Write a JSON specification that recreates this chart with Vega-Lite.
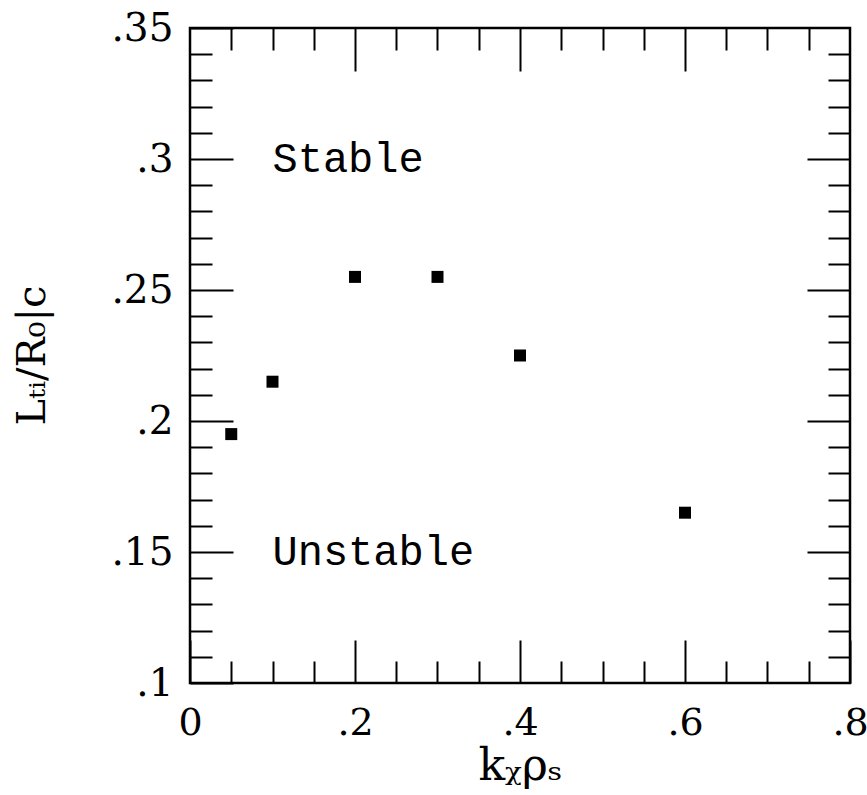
{
  "$schema": "https://vega.github.io/schema/vega-lite/v6.json",
  "width": 660,
  "height": 655,
  "autosize": {"type": "none"},
  "padding": {"left": 190, "top": 28, "right": 17, "bottom": 112},
  "background": "white",
  "config": {
    "view": {"stroke": "black", "strokeWidth": 2.5},
    "axis": {
      "domain": false,
      "grid": false,
      "tickColor": "black",
      "tickWidth": 2,
      "labelColor": "black",
      "titleColor": "black",
      "labelFont": "DejaVu Serif",
      "titleFont": "DejaVu Serif",
      "titleFontWeight": "normal"
    }
  },
  "datasets": {
    "runs": [
      {"k": 0.05, "L": 0.195},
      {"k": 0.1, "L": 0.215},
      {"k": 0.2, "L": 0.255},
      {"k": 0.3, "L": 0.255},
      {"k": 0.4, "L": 0.225},
      {"k": 0.6, "L": 0.165}
    ],
    "regions": [
      {"k": 0.1, "L": 0.3, "label": "Stable"},
      {"k": 0.1, "L": 0.15, "label": "Unstable"}
    ]
  },
  "resolve": {"axis": {"x": "independent", "y": "independent"}},
  "layer": [
    {
      "data": {"name": "runs"},
      "mark": {"type": "point", "shape": "square", "filled": true, "color": "black", "size": 144, "opacity": 1},
      "encoding": {
        "x": {
          "field": "k", "type": "quantitative",
          "scale": {"domain": [0, 0.8], "nice": false, "zero": false},
          "axis": {
            "orient": "bottom",
            "values": [0, 0.2, 0.4, 0.6, 0.8],
            "format": ".1~f",
            "labelExpr": "replace(datum.label, /^0\\./, '.')",
            "tickSize": -43,
            "labelPadding": 64,
            "labelFontSize": 38,
            "labelFlush": false,
            "title": "kᵪρₛ",
            "titleFontSize": 44,
            "titleX": 330,
            "titleY": 96,
            "titleAlign": "center",
            "titleBaseline": "alphabetic"
          }
        },
        "y": {
          "field": "L", "type": "quantitative",
          "scale": {"domain": [0.1, 0.35], "nice": false, "zero": false},
          "axis": {
            "orient": "left",
            "values": [0.1, 0.15, 0.2, 0.25, 0.3, 0.35],
            "format": ".2~f",
            "labelExpr": "replace(datum.label, /^0\\./, '.')",
            "tickSize": -43,
            "labelPadding": 60,
            "labelFontSize": 39,
            "labelFlush": false,
            "title": "Lₜᵢ/R₀|c",
            "titleFontSize": 40,
            "titleAngle": 270,
            "titleX": -158,
            "titleY": 327,
            "titleAlign": "center",
            "titleBaseline": "middle"
          }
        }
      }
    },
    {
      "data": {"name": "regions"},
      "mark": {"type": "text", "font": "Liberation Mono", "fontSize": 42, "align": "left", "baseline": "middle", "color": "black"},
      "encoding": {
        "text": {"field": "label"},
        "x": {
          "field": "k", "type": "quantitative",
          "scale": {"domain": [0, 0.8], "nice": false, "zero": false},
          "axis": {
            "orient": "bottom",
            "values": [0.05, 0.1, 0.15, 0.25, 0.3, 0.35, 0.45, 0.5, 0.55, 0.65, 0.7, 0.75],
            "labels": false,
            "tickSize": -22,
            "title": null
          }
        },
        "y": {
          "field": "L", "type": "quantitative",
          "scale": {"domain": [0.1, 0.35], "nice": false, "zero": false},
          "axis": {
            "orient": "left",
            "values": [0.11, 0.12, 0.13, 0.14, 0.16, 0.17, 0.18, 0.19, 0.21, 0.22, 0.23, 0.24, 0.26, 0.27, 0.28, 0.29, 0.31, 0.32, 0.33, 0.34],
            "labels": false,
            "tickSize": -22,
            "title": null
          }
        }
      }
    },
    {
      "data": {"name": "runs"},
      "mark": {"type": "point", "shape": "square", "filled": true, "opacity": 0},
      "encoding": {
        "x": {
          "field": "k", "type": "quantitative",
          "scale": {"domain": [0, 0.8], "nice": false, "zero": false},
          "axis": {
            "orient": "top",
            "values": [0.2, 0.4, 0.6],
            "labels": false,
            "tickSize": -43,
            "title": null
          }
        },
        "y": {
          "field": "L", "type": "quantitative",
          "scale": {"domain": [0.1, 0.35], "nice": false, "zero": false},
          "axis": {
            "orient": "right",
            "values": [0.15, 0.2, 0.25, 0.3],
            "labels": false,
            "tickSize": -43,
            "title": null
          }
        }
      }
    },
    {
      "data": {"name": "runs"},
      "mark": {"type": "point", "shape": "square", "filled": true, "opacity": 0},
      "encoding": {
        "x": {
          "field": "k", "type": "quantitative",
          "scale": {"domain": [0, 0.8], "nice": false, "zero": false},
          "axis": {
            "orient": "top",
            "values": [0.05, 0.1, 0.15, 0.25, 0.3, 0.35, 0.45, 0.5, 0.55, 0.65, 0.7, 0.75],
            "labels": false,
            "tickSize": -22,
            "title": null
          }
        },
        "y": {
          "field": "L", "type": "quantitative",
          "scale": {"domain": [0.1, 0.35], "nice": false, "zero": false},
          "axis": {
            "orient": "right",
            "values": [0.11, 0.12, 0.13, 0.14, 0.16, 0.17, 0.18, 0.19, 0.21, 0.22, 0.23, 0.24, 0.26, 0.27, 0.28, 0.29, 0.31, 0.32, 0.33, 0.34],
            "labels": false,
            "tickSize": -22,
            "title": null
          }
        }
      }
    }
  ]
}
